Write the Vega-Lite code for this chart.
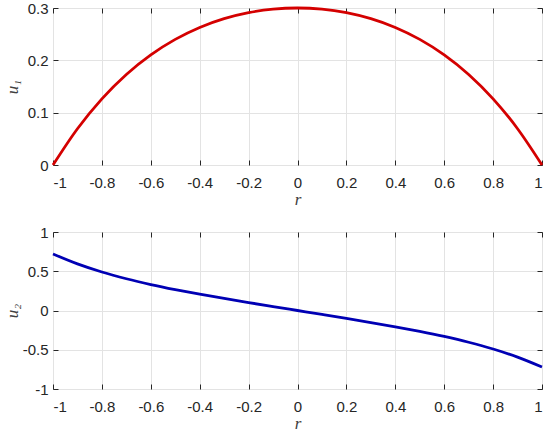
{
  "$schema": "https://vega.github.io/schema/vega-lite/v6.json",
  "padding": {"left": 2, "top": 0, "right": 5, "bottom": 0},
  "spacing": 16,
  "config": {
    "view": {"stroke": "#262626", "strokeWidth": 1},
    "axis": {
      "labelFont": "Liberation Sans",
      "labelFontSize": 15,
      "labelColor": "#262626",
      "tickColor": "#262626",
      "tickSize": -5,
      "domain": false,
      "gridColor": "#e3e3e3",
      "gridWidth": 1,
      "titleFont": "Liberation Serif",
      "titleFontStyle": "italic",
      "titleFontWeight": "normal",
      "titleFontSize": 17,
      "titleColor": "#404040"
    }
  },
  "vconcat": [
    {
      "width": 489,
      "height": 157,
      "data": {"values": [
        {"r": -1.0, "u": 0.0},
        {"r": -0.9, "u": 0.0693},
        {"r": -0.8, "u": 0.1264},
        {"r": -0.7, "u": 0.173},
        {"r": -0.6, "u": 0.2104},
        {"r": -0.5, "u": 0.24},
        {"r": -0.4, "u": 0.2628},
        {"r": -0.3, "u": 0.2796},
        {"r": -0.2, "u": 0.2911},
        {"r": -0.1, "u": 0.2978},
        {"r": 0.0, "u": 0.3},
        {"r": 0.1, "u": 0.2978},
        {"r": 0.2, "u": 0.2911},
        {"r": 0.3, "u": 0.2796},
        {"r": 0.4, "u": 0.2628},
        {"r": 0.5, "u": 0.24},
        {"r": 0.6, "u": 0.2104},
        {"r": 0.7, "u": 0.173},
        {"r": 0.8, "u": 0.1264},
        {"r": 0.9, "u": 0.0693},
        {"r": 1.0, "u": 0.0}
      ]},
      "layer": [
        {
          "mark": {"type": "line", "color": "#d40000", "strokeWidth": 2.8, "interpolate": "monotone"},
          "encoding": {
            "x": {"field": "r", "type": "quantitative", "scale": {"domain": [-1, 1], "nice": false},
                  "axis": {"orient": "bottom", "title": "r", "values": [-1, -0.8, -0.6, -0.4, -0.2, 0, 0.2, 0.4, 0.6, 0.8, 1], "labelExpr": "'' + datum.value", "labelPadding": 15, "titlePadding": 1}},
            "y": {"field": "u", "type": "quantitative", "scale": {"domain": [0, 0.3], "nice": false},
                  "axis": {"orient": "left", "title": "u₁", "values": [0, 0.1, 0.2, 0.3], "labelExpr": "'' + datum.value", "labelPadding": 10, "titlePadding": 6}}
          }
        },
        {
          "mark": {"type": "line", "opacity": 0},
          "encoding": {
            "x": {"field": "r", "type": "quantitative", "scale": {"domain": [-1, 1], "nice": false},
                  "axis": {"orient": "top", "title": null, "labels": false, "grid": false, "values": [-1, -0.8, -0.6, -0.4, -0.2, 0, 0.2, 0.4, 0.6, 0.8, 1]}},
            "y": {"field": "u", "type": "quantitative", "scale": {"domain": [0, 0.3], "nice": false},
                  "axis": {"orient": "right", "title": null, "labels": false, "grid": false, "values": [0, 0.1, 0.2, 0.3]}}
          }
        }
      ],
      "resolve": {"axis": {"x": "independent", "y": "independent"}}
    },
    {
      "width": 489,
      "height": 157,
      "data": {"values": [
        {"r": -1.0, "u": 0.72},
        {"r": -0.9, "u": 0.5938},
        {"r": -0.8, "u": 0.4905},
        {"r": -0.7, "u": 0.4045},
        {"r": -0.6, "u": 0.3309},
        {"r": -0.5, "u": 0.2663},
        {"r": -0.4, "u": 0.2076},
        {"r": -0.3, "u": 0.153},
        {"r": -0.2, "u": 0.1008},
        {"r": -0.1, "u": 0.0501},
        {"r": 0.0, "u": 0.0},
        {"r": 0.1, "u": -0.0501},
        {"r": 0.2, "u": -0.1008},
        {"r": 0.3, "u": -0.153},
        {"r": 0.4, "u": -0.2076},
        {"r": 0.5, "u": -0.2663},
        {"r": 0.6, "u": -0.3309},
        {"r": 0.7, "u": -0.4045},
        {"r": 0.8, "u": -0.4905},
        {"r": 0.9, "u": -0.5938},
        {"r": 1.0, "u": -0.72}
      ]},
      "layer": [
        {
          "mark": {"type": "line", "color": "#0000b4", "strokeWidth": 2.8, "interpolate": "monotone"},
          "encoding": {
            "x": {"field": "r", "type": "quantitative", "scale": {"domain": [-1, 1], "nice": false},
                  "axis": {"orient": "bottom", "title": "r", "values": [-1, -0.8, -0.6, -0.4, -0.2, 0, 0.2, 0.4, 0.6, 0.8, 1], "labelExpr": "'' + datum.value", "labelPadding": 15, "titlePadding": 1}},
            "y": {"field": "u", "type": "quantitative", "scale": {"domain": [-1, 1], "nice": false},
                  "axis": {"orient": "left", "title": "u₂", "values": [-1, -0.5, 0, 0.5, 1], "labelExpr": "'' + datum.value", "labelPadding": 10, "titlePadding": 1}}
          }
        },
        {
          "mark": {"type": "line", "opacity": 0},
          "encoding": {
            "x": {"field": "r", "type": "quantitative", "scale": {"domain": [-1, 1], "nice": false},
                  "axis": {"orient": "top", "title": null, "labels": false, "grid": false, "values": [-1, -0.8, -0.6, -0.4, -0.2, 0, 0.2, 0.4, 0.6, 0.8, 1]}},
            "y": {"field": "u", "type": "quantitative", "scale": {"domain": [-1, 1], "nice": false},
                  "axis": {"orient": "right", "title": null, "labels": false, "grid": false, "values": [-1, -0.5, 0, 0.5, 1]}}
          }
        }
      ],
      "resolve": {"axis": {"x": "independent", "y": "independent"}}
    }
  ]
}
